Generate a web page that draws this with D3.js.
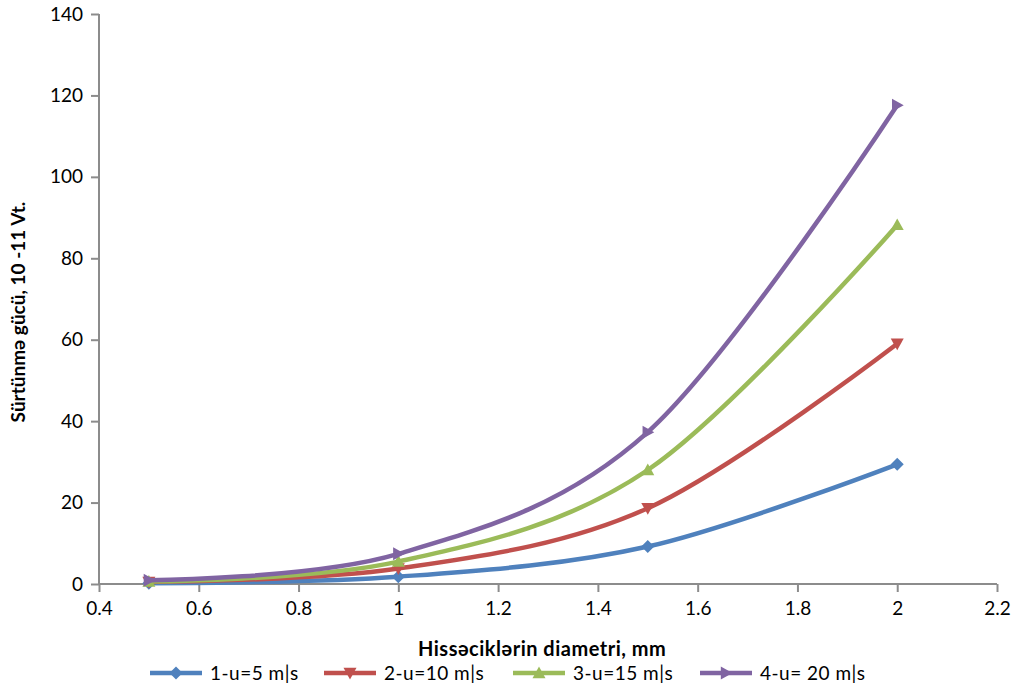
<!DOCTYPE html>
<html>
<head>
<meta charset="utf-8">
<script src="https://cdn.jsdelivr.net/npm/d3@7/dist/d3.min.js"></script>
<style>
  body { margin: 0; background: #fff; }
  svg { display: block; font-family: Lato, "Open Sans", sans-serif; }
</style>
</head>
<body>
<svg id="chart" width="1014" height="688"></svg>
<script>
const diameters = [0.5, 1, 1.5, 2];
const seriesNames = ["1-u=5 m|s", "2-u=10 m|s", "3-u=15 m|s", "4-u= 20 m|s"];
const s1 = [0.2, 1.8, 9.2, 29.4];
const s2 = [0.5, 3.8, 18.6, 59.0];
const s3 = [0.6, 5.5, 28.0, 88.2];
const s4 = [0.9, 7.4, 37.3, 117.6];
const xTicks = [0.4, 0.6, 0.8, 1, 1.2, 1.4, 1.6, 1.8, 2, 2.2];
const yTicks = [0, 20, 40, 60, 80, 100, 120, 140];
const colors = ["#4F81BD", "#C0504D", "#9BBB59", "#8064A2"];
const markerTypes = ["diamond", "down", "up", "right"];
const legendX = [150, 324, 513, 700];

const svg = d3.select("#chart");
const x = d3.scaleLinear().domain([0.4, 2.2]).range([99, 997]);
const y = d3.scaleLinear().domain([0, 140]).range([584, 14]);

const axisColor = "#8c8c8c";

const xAxis = svg.append("g").attr("transform", "translate(0,584)")
  .call(d3.axisBottom(x).tickValues(xTicks).tickSize(8).tickPadding(10).tickFormat(d => String(+d.toFixed(1))));
const yAxis = svg.append("g").attr("transform", "translate(99,0)")
  .call(d3.axisLeft(y).tickValues(yTicks).tickSize(8).tickPadding(8));
[xAxis, yAxis].forEach(g => {
  g.select(".domain").attr("stroke", axisColor).attr("stroke-width", 2);
  g.selectAll(".tick line").attr("stroke", axisColor).attr("stroke-width", 2);
  g.selectAll(".tick text").attr("fill", "#000").style("font-size", "19px").style("font-family", "Lato, 'Open Sans', sans-serif");
});
xAxis.select(".domain").attr("d", `M${x(0.4)},0H${x(2.2)}`);
yAxis.select(".domain").attr("d", `M0,${y(0)}V${y(140)}`);

const allSeries = [s1, s2, s3, s4];
const line = d3.line().x((d, i) => x(diameters[i])).y(d => y(d)).curve(d3.curveCardinal.tension(0));

function markerPath(type, s) {
  switch (type) {
    case "diamond": return `M0,${-s}L${s},0L0,${s}L${-s},0Z`;
    case "down": return `M${-s},${-s*0.8}L${s},${-s*0.8}L0,${s}Z`;
    case "up": return `M${-s},${s*0.8}L${s},${s*0.8}L0,${-s}Z`;
    case "right": return `M${-s*0.8},${-s}L${s},0L${-s*0.8},${s}Z`;
  }
}

allSeries.forEach((vals, k) => {
  svg.append("path").datum(vals).attr("d", line)
    .attr("fill", "none").attr("stroke", colors[k]).attr("stroke-width", 4.5);
  svg.append("g").selectAll("path").data(vals).join("path")
    .attr("transform", (d, i) => `translate(${x(diameters[i])},${y(d)})`)
    .attr("d", markerPath(markerTypes[k], 6.5))
    .attr("fill", colors[k]);
});

// axis titles
svg.append("text").attr("x", 418).attr("y", 656)
  .attr("font-weight", "bold").style("font-size", "20px").style("letter-spacing", "0.5px").attr("fill", "#000")
  .text("Hissəciklərin diametri, mm");
svg.append("text").attr("transform", "translate(25,312) rotate(-90)")
  .attr("text-anchor", "middle").attr("font-weight", "bold").style("font-size", "19px").attr("fill", "#000")
  .text("Sürtünmə gücü, 10 -11 Vt.");

// legend
const lg = svg.append("g");
seriesNames.forEach((name, k) => {
  const lx = legendX[k], ly = 673;
  lg.append("line").attr("x1", lx).attr("x2", lx + 52).attr("y1", ly).attr("y2", ly)
    .attr("stroke", colors[k]).attr("stroke-width", 4.5);
  lg.append("path").attr("transform", `translate(${lx + 26},${ly})`)
    .attr("d", markerPath(markerTypes[k], 6.5)).attr("fill", colors[k]);
  lg.append("text").attr("x", lx + 60).attr("y", ly + 7).style("font-size", "19px").style("letter-spacing", "0.5px").attr("fill", "#000").text(name);
});
</script>
</body>
</html>
